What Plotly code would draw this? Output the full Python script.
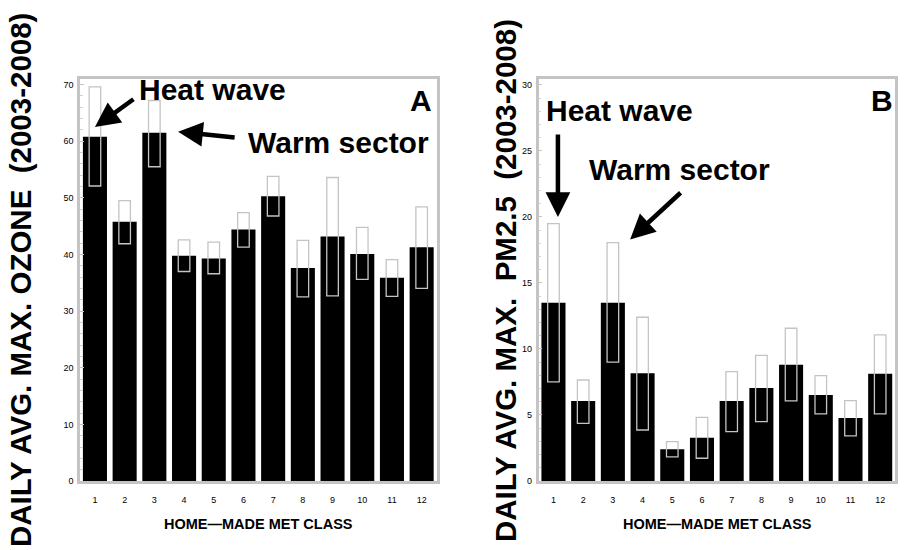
import plotly.graph_objects as go

classes = list(range(1, 13))
class_labels = [str(c) for c in classes]

# Panel A: ozone
ozone_mean = [60.8, 45.8, 61.5, 39.8, 39.3, 44.4, 50.3, 37.6, 43.2, 40.1, 35.9, 41.3]
ozone_low = [52.1, 41.9, 55.5, 37.0, 36.6, 41.3, 46.8, 32.5, 32.7, 35.6, 32.6, 34.0]
ozone_high = [69.6, 49.5, 67.2, 42.6, 42.2, 47.4, 53.8, 42.5, 53.6, 44.8, 39.1, 48.4]

# Panel B: PM2.5
pm_mean = [13.5, 6.06, 13.5, 8.16, 2.4, 3.28, 6.06, 7.05, 8.81, 6.52, 4.77, 8.13]
pm_low = [7.5, 4.37, 9.0, 3.86, 1.82, 1.72, 3.74, 4.49, 6.06, 5.08, 3.41, 5.08]
pm_high = [19.5, 7.65, 18.05, 12.4, 2.98, 4.82, 8.28, 9.52, 11.57, 7.98, 6.08, 11.06]

yticks_a = [0, 10, 20, 30, 40, 50, 60, 70]
yticks_b = [0, 5, 10, 15, 20, 25, 30]

fig = go.Figure()

def add_panel(mean, low, high, xa, ya):
    fig.add_trace(go.Bar(
        x=classes, y=mean, width=0.81, marker=dict(color="black", line=dict(width=0)),
        xaxis=xa, yaxis=ya, showlegend=False, hoverinfo="skip"))
    fig.add_trace(go.Bar(
        x=classes, y=[h - l for h, l in zip(high, low)], base=low, width=0.39,
        marker=dict(color="rgba(0,0,0,0)", line=dict(color="#c4c4c4", width=1.3)),
        xaxis=xa, yaxis=ya, showlegend=False, hoverinfo="skip"))

add_panel(ozone_mean, ozone_low, ozone_high, "x", "y")
add_panel(pm_mean, pm_low, pm_high, "x2", "y2")

axis_common = dict(showline=True, mirror=True, linecolor="#c4c4c4", linewidth=2.5,
                   showgrid=False, zeroline=False, automargin=False,
                   tickfont=dict(family="Liberation Sans", size=9, color="black"))

fig.update_layout(
    width=906, height=550, margin=dict(l=0, r=0, t=0, b=0),
    paper_bgcolor="white", plot_bgcolor="white",
    barmode="overlay",
    xaxis=dict(domain=[0.0884, 0.4818], range=[0.5, 12.5], tickvals=classes,
               ticktext=class_labels, ticks="", ticklabelstandoff=8, **axis_common),
    yaxis=dict(domain=[0.1255, 0.8564], range=[0, 71.0], tickvals=yticks_a,
               ticks="inside", ticklen=4, tickcolor="#c4c4c4",
               minor=dict(dtick=2, ticks="inside", ticklen=3, tickcolor="#d0d0d0"),
               ticklabelstandoff=2, **axis_common),
    xaxis2=dict(domain=[0.5945, 0.9879], range=[0.5, 12.5], tickvals=classes,
                ticktext=class_labels, ticks="", ticklabelstandoff=8, anchor="y2", **axis_common),
    yaxis2=dict(domain=[0.1255, 0.8564], range=[0, 30.45], tickvals=yticks_b,
                ticks="inside", ticklen=4, tickcolor="#c4c4c4",
                minor=dict(dtick=1, ticks="inside", ticklen=3, tickcolor="#d0d0d0"),
                ticklabelstandoff=2, anchor="x2", **axis_common),
)

title_font = dict(family="Liberation Sans", size=29.5, color="black")
big_font = dict(family="Liberation Sans", size=30, color="black")
xt_font = dict(family="Liberation Sans", size=14.5, color="black")

annotations = [
    # y-axis titles
    dict(text="<b>DAILY AVG. MAX. OZONE&nbsp;&nbsp;(2003-2008)</b>", x=21, y=280,
         textangle=-90, showarrow=False, font=title_font),
    dict(text="<b>DAILY AVG. MAX.&nbsp;&nbsp;PM2.5&nbsp;&nbsp;(2003-2008)</b>", x=506, y=280,
         textangle=-90, showarrow=False, font=title_font),
    # x-axis titles
    dict(text="<b>HOME\u2014MADE MET CLASS</b>", x=258, y=524, showarrow=False, font=xt_font),
    dict(text="<b>HOME\u2014MADE MET CLASS</b>", x=717, y=524, showarrow=False, font=xt_font),
    # panel letters
    dict(text="<b>A</b>", x=421, y=100, showarrow=False, font=big_font),
    dict(text="<b>B</b>", x=882, y=101, showarrow=False, font=big_font),
    # text labels
    dict(text="<b>Heat wave</b>", x=212, y=90, showarrow=False, font=big_font),
    dict(text="<b>Warm sector</b>", x=338, y=142, showarrow=False, font=big_font),
    dict(text="<b>Heat wave</b>", x=619, y=111, showarrow=False, font=big_font),
    dict(text="<b>Warm sector</b>", x=679, y=169, showarrow=False, font=big_font),
]
# convert pixel positions to paper fractions
for a in annotations:
    a["xref"] = "paper"
    a["yref"] = "paper"
    a["x"] = a["x"] / 906
    a["y"] = 1 - a["y"] / 550
    a["xanchor"] = "center"
    a["yanchor"] = "middle"

arrow_style = dict(showarrow=True, arrowhead=2, arrowsize=1.1, arrowwidth=4.5,
                   arrowcolor="black", text="", standoff=0)
arrows = [
    dict(x=1, y=62.5, xref="x", yref="y", ax=40, ay=-29),
    dict(x=3.8, y=61.7, xref="x", yref="y", ax=58, ay=6),
    dict(x=1.15, y=20.0, xref="x2", yref="y2", ax=0, ay=-84),
    dict(x=3.58, y=18.3, xref="x2", yref="y2", ax=52, ay=-48),
]
for a in arrows:
    d = dict(arrow_style)
    d.update(a)
    annotations.append(d)

fig.update_layout(annotations=annotations)
fig.write_html("out.html", config={"displayModeBar": False},
               post_script="document.body.style.margin='0';document.body.style.overflow='hidden';")
